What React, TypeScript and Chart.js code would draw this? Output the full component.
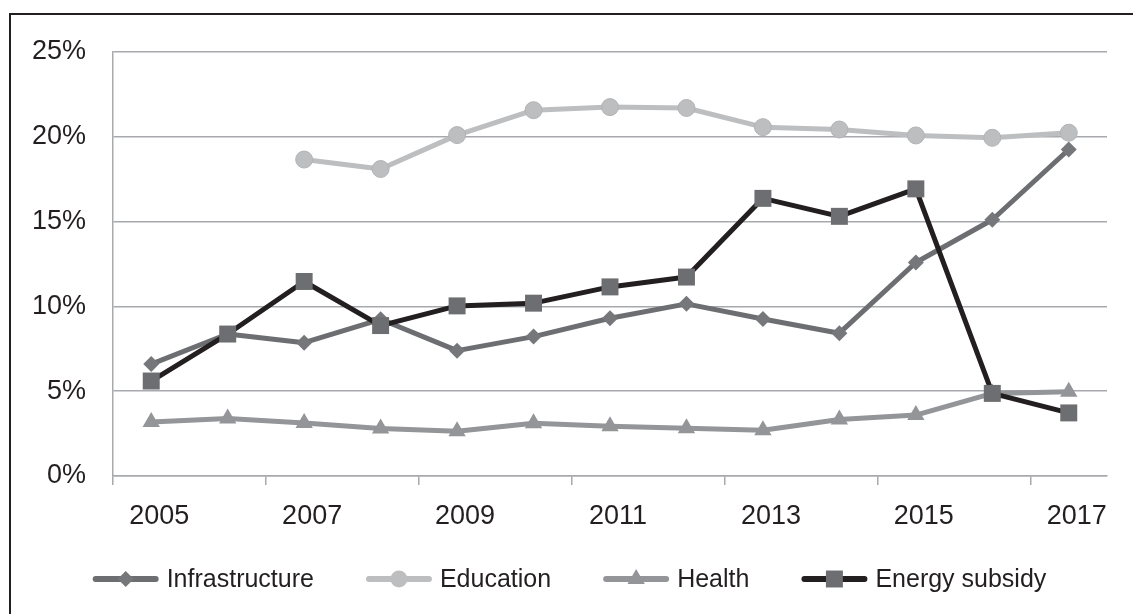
import React, { useEffect, useRef } from 'react';
import { Chart, registerables } from 'chart.js';

Chart.register(...registerables);

const years = ['2005', '2006', '2007', '2008', '2009', '2010', '2011', '2012', '2013', '2014', '2015', '2016', '2017'];
const infrastructure = [6.6, 8.37, 7.86, 9.24, 7.39, 8.22, 9.3, 10.15, 9.26, 8.42, 12.59, 15.11, 19.25];
const education = [null, null, 18.66, 18.1, 20.1, 21.57, 21.75, 21.7, 20.57, 20.43, 20.08, 19.94, 20.24];
const health = [3.19, 3.39, 3.13, 2.8, 2.64, 3.11, 2.94, 2.82, 2.7, 3.33, 3.59, 4.87, 4.97];
const energySubsidy = [5.6, 8.37, 11.47, 8.87, 10.03, 10.19, 11.15, 11.73, 16.37, 15.31, 16.93, 4.87, 3.72];
const seriesNames = ['Infrastructure', 'Education', 'Health', 'Energy subsidy'];
const yMin = 0;
const yMax = 25;
const yStep = 5;

const FONT = '"Liberation Sans", Arial, Helvetica, sans-serif';
const TEXT = '#231f20';
const GRID = '#a7a9ac';

function drawMarker(ctx: CanvasRenderingContext2D, style: string, x: number, y: number, r: number, color: string) {
  ctx.save();
  ctx.fillStyle = color;
  ctx.beginPath();
  if (style === 'circle') {
    ctx.arc(x, y, r, 0, Math.PI * 2);
  } else if (style === 'rectRot') {
    ctx.moveTo(x, y - r);
    ctx.lineTo(x + r, y);
    ctx.lineTo(x, y + r);
    ctx.lineTo(x - r, y);
    ctx.closePath();
  } else if (style === 'triangle') {
    for (let k = 0; k < 3; k++) {
      const a = (k * 2 * Math.PI) / 3;
      const px = x + Math.sin(a) * r;
      const py = y - Math.cos(a) * r;
      if (k === 0) ctx.moveTo(px, py);
      else ctx.lineTo(px, py);
    }
    ctx.closePath();
  } else {
    const s = Math.SQRT1_2 * r;
    ctx.rect(x - s, y - s, 2 * s, 2 * s);
  }
  ctx.fill();
  ctx.restore();
}

const lineLegend = {
  id: 'lineLegend',
  afterDraw(chart: any) {
    const ctx: CanvasRenderingContext2D = chart.ctx;
    ctx.save();
    ctx.font = `25px ${FONT}`;
    const symW = 66;
    const symGap = 8;
    const itemGap = 52;
    const items = chart.data.datasets.map((ds: any) => ({ ds, tw: ctx.measureText(ds.label).width }));
    const total =
      items.reduce((s: number, it: any) => s + symW + symGap + it.tw, 0) + itemGap * (items.length - 1);
    let x = (chart.width - total) / 2 + 3;
    const y = chart.height - 35;
    items.forEach(({ ds, tw }: any) => {
      ctx.strokeStyle = ds.borderColor;
      ctx.lineWidth = 6;
      ctx.lineCap = 'round';
      ctx.beginPath();
      ctx.moveTo(x + 3, y);
      ctx.lineTo(x + symW - 3, y);
      ctx.stroke();
      drawMarker(ctx, ds.pointStyle, x + symW / 2, y, ds.pointRadius, ds.pointBackgroundColor);
      ctx.fillStyle = TEXT;
      ctx.textBaseline = 'middle';
      ctx.textAlign = 'left';
      ctx.fillText(ds.label, x + symW + symGap, y + 1);
      x += symW + symGap + tw + itemGap;
    });
    ctx.restore();
  },
};

export default function App() {
  const ref = useRef<HTMLCanvasElement | null>(null);

  useEffect(() => {
    if (!ref.current) return;
    const chart = new Chart(ref.current, {
      type: 'line',
      data: {
        labels: years,
        datasets: [
          {
            label: seriesNames[0],
            data: infrastructure,
            borderColor: '#6d6e71',
            backgroundColor: '#76777a',
            pointBackgroundColor: '#76777a',
            pointBorderColor: '#76777a',
            pointBorderWidth: 0,
            pointStyle: 'rectRot',
            pointRadius: 8,
            borderWidth: 5,
            order: 4,
          },
          {
            label: seriesNames[1],
            data: education,
            borderColor: '#bcbec0',
            backgroundColor: '#bcbec0',
            pointBackgroundColor: '#bcbec0',
            pointBorderColor: '#b1b3b6',
            pointBorderWidth: 1,
            pointStyle: 'circle',
            pointRadius: 8.5,
            borderWidth: 5,
            order: 3,
          },
          {
            label: seriesNames[2],
            data: health,
            borderColor: '#939598',
            backgroundColor: '#939598',
            pointBackgroundColor: '#939598',
            pointBorderColor: '#939598',
            pointBorderWidth: 0,
            pointStyle: 'triangle',
            pointRadius: 10,
            borderWidth: 5,
            order: 2,
          },
          {
            label: seriesNames[3],
            data: energySubsidy,
            borderColor: '#231f20',
            backgroundColor: '#6d6e71',
            pointBackgroundColor: '#6d6e71',
            pointBorderColor: '#6d6e71',
            pointBorderWidth: 0,
            pointStyle: 'rect',
            pointRadius: 12,
            borderWidth: 5,
            order: 1,
          },
        ],
      },
      options: {
        animation: false,
        responsive: true,
        maintainAspectRatio: false,
        events: [],
        layout: { padding: { top: 52, right: 26, bottom: 88, left: 0 } },
        elements: { line: { tension: 0, borderJoinStyle: 'round', borderCapStyle: 'round' } },
        plugins: {
          legend: { display: false },
          tooltip: { enabled: false },
          title: { display: false },
        },
        scales: {
          x: {
            type: 'category',
            offset: true,
            grid: {
              offset: true,
              drawOnChartArea: false,
              drawTicks: true,
              tickLength: 9,
              lineWidth: 1.5,
              color: (c: any) =>
                typeof c.index === 'number' && c.index % 2 === 0 ? GRID : 'rgba(0,0,0,0)',
            },
            border: { display: true, color: GRID, width: 1.5 },
            ticks: {
              autoSkip: false,
              maxRotation: 0,
              minRotation: 0,
              padding: 15,
              labelOffset: 8,
              color: TEXT,
              font: { size: 27, family: FONT },
              callback: (_v: any, i: number) => (i % 2 === 0 ? years[i] : ''),
            },
            afterFit: (s: any) => {
              s.height = 50;
            },
          },
          y: {
            min: yMin,
            max: yMax,
            ticks: {
              stepSize: yStep,
              padding: 27,
              color: TEXT,
              font: { size: 27, family: FONT },
              callback: (v: any) => `${v}%`,
            },
            grid: { color: GRID, lineWidth: 1.5, drawTicks: false },
            border: { display: true, color: GRID, width: 1.5 },
            afterFit: (s: any) => {
              s.width = 113;
            },
          },
        },
      },
      plugins: [lineLegend],
    } as any);
    return () => chart.destroy();
  }, []);

  return (
    <div
      style={{
        position: 'fixed',
        left: 0,
        top: 0,
        width: 1133,
        height: 614,
        overflow: 'hidden',
        background: '#ffffff',
      }}
    >
      <div
        style={{
          position: 'absolute',
          left: 9,
          top: 13,
          width: 1300,
          height: 800,
          borderTop: '2px solid #231f20',
          borderLeft: '2px solid #231f20',
          pointerEvents: 'none',
        }}
      />
      <div style={{ position: 'absolute', left: 0, top: 0, width: 1133, height: 614 }}>
        <canvas ref={ref} />
      </div>
    </div>
  );
}
